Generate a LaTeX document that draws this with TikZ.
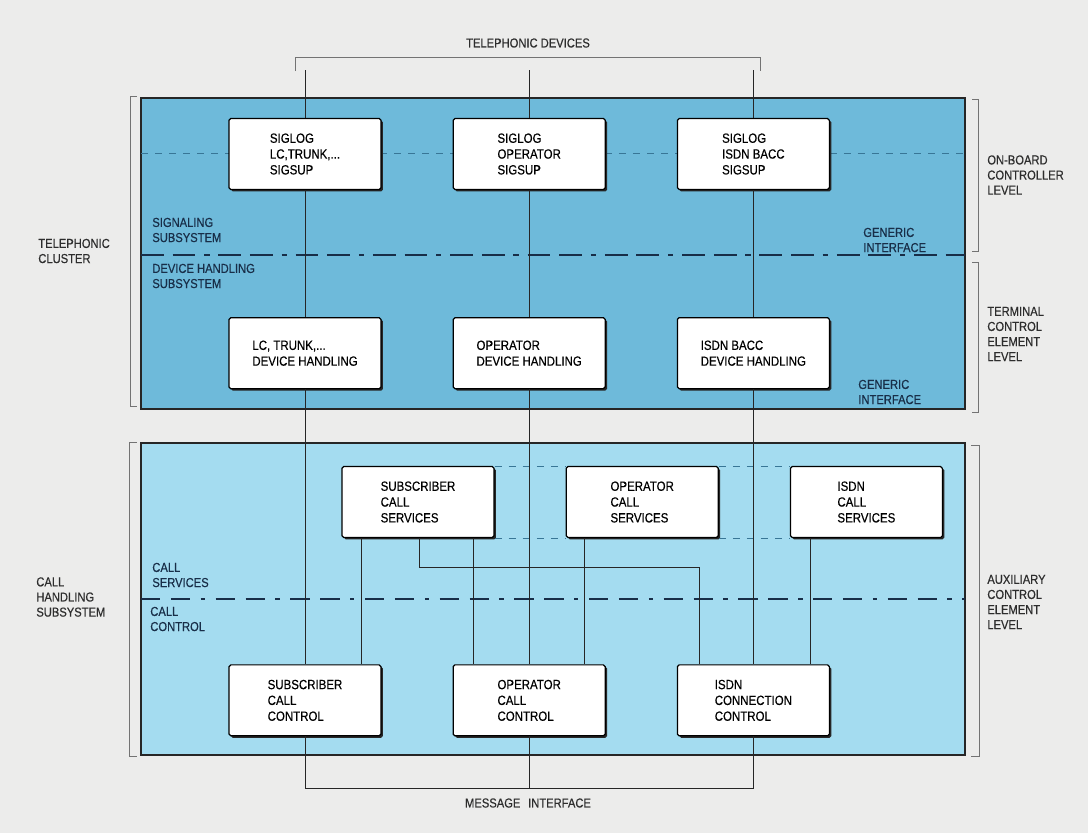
\documentclass[tikz,border=0pt]{standalone}
\usepackage{fontspec}
\setmainfont{Liberation Sans}[FakeStretch=0.86,FakeBold=0.35]
\usepackage{xcolor}
\usetikzlibrary{positioning, shadows}
\definecolor{paper}{RGB}{236,236,235}
\definecolor{upperblue}{RGB}{110,186,218}
\definecolor{lowerblue}{RGB}{164,220,240}
\definecolor{navy}{RGB}{24,46,72}
\definecolor{inkgrey}{RGB}{45,45,45}
\definecolor{dashblue}{RGB}{56,118,150}

\begin{document}
\begin{tikzpicture}[
    x=0.02cm, y=-0.02cm,
    node distance=1.42cm,
    unit/.style={rectangle,draw=black,fill=white,line width=0.7pt,rounded corners=1pt,
        minimum width=3.04cm,minimum height=1.42cm,align=left,
        font=\fontsize{7.6}{9}\selectfont,
        drop shadow={shadow xshift=1.1pt,shadow yshift=-1.1pt,opacity=1,fill=black!85}},
    inlabel/.style={align=left,anchor=west,inner sep=0pt,text=navy,font=\fontsize{7.4}{8.6}\selectfont},
    outlabel/.style={align=left,anchor=west,inner sep=0pt,text=inkgrey,font=\fontsize{7.4}{8.6}\selectfont},
    panel/.style={draw=black!85,line width=0.9pt},
    brace/.style={draw=black!55,line width=0.5pt},
    link/.style={draw=black!85,line width=0.55pt},
    faint/.style={draw=dashblue,line width=0.4pt,dash pattern=on 4pt off 4pt},
    levelline/.style={draw=navy,line width=1.3pt,dash pattern=on 13pt off 5pt on 13pt off 5pt on 3pt off 5pt},
    subline/.style={draw=navy,line width=0.9pt,dash pattern=on 11pt off 6pt on 11pt off 6pt on 2.5pt off 6pt}
]
\fill[paper] (0,0) rectangle (1088,833);
\useasboundingbox (0,0) rectangle (1088,833);

% panels
\fill[upperblue] (141,98) rectangle (965,409);
\draw[panel] (141,98) rectangle (965,409);
\fill[lowerblue] (141,443) rectangle (965,755);
\draw[panel] (141,443) rectangle (965,755);

\draw[faint] (141,153) -- (965,153);
\draw[levelline] (141,255) -- (965,255);
\draw[subline] (141,599) -- (965,599);

% boxes
\node[unit] (sig1) at (305,154) {SIGLOG\\LC,TRUNK,...\\SIGSUP};
\node[unit,right=of sig1] (sig2) {SIGLOG\\OPERATOR\\SIGSUP};
\node[unit,right=of sig2] (sig3) {SIGLOG\\ISDN BACC\\SIGSUP};
\node[unit,below=2.54cm of sig1] (dev1) {LC, TRUNK,...\\DEVICE HANDLING};
\node[unit,right=of dev1] (dev2) {OPERATOR\\DEVICE HANDLING};
\node[unit,right=of dev2] (dev3) {ISDN BACC\\DEVICE HANDLING};
\node[unit] (svc1) at (418,502) {SUBSCRIBER\\CALL\\SERVICES};
\node[unit,right=of svc1] (svc2) {OPERATOR\\CALL\\SERVICES};
\node[unit,right=of svc2] (svc3) {ISDN\\CALL\\SERVICES};
\node[unit,below=5.5cm of dev1] (ctl1) {SUBSCRIBER\\CALL\\CONTROL};
\node[unit,right=of ctl1] (ctl2) {OPERATOR\\CALL\\CONTROL};
\node[unit,right=of ctl2] (ctl3) {ISDN\\CONNECTION\\CONTROL};

\draw[faint] (svc1.north east) -- (svc2.north west);
\draw[faint] (svc2.north east) -- (svc3.north west);
\draw[faint] (svc1.south east) -- (svc2.south west);
\draw[faint] (svc2.south east) -- (svc3.south west);

% labels
\node[outlabel,anchor=center] (devices) at (528,43) {TELEPHONIC DEVICES};
\node[outlabel,anchor=center] (message) at (528,803) {MESSAGE\hspace{0.6em}INTERFACE};
\node[outlabel] (cluster) at (38,251) {TELEPHONIC\\CLUSTER};
\node[outlabel] (handling) at (36,597) {CALL\\HANDLING\\SUBSYSTEM};
\node[outlabel] (onboard) at (987,175) {ON-BOARD\\CONTROLLER\\LEVEL};
\node[outlabel] (terminal) at (987,334) {TERMINAL\\CONTROL\\ELEMENT\\LEVEL};
\node[outlabel] (auxiliary) at (987,602) {AUXILIARY\\CONTROL\\ELEMENT\\LEVEL};
\node[inlabel] (signaling) at (152,230) {SIGNALING\\SUBSYSTEM};
\node[inlabel] (devsub) at (152,276) {DEVICE HANDLING\\SUBSYSTEM};
\node[inlabel] (generic1) at (863,240) {GENERIC\\INTERFACE};
\node[inlabel] (generic2) at (858,392) {GENERIC\\INTERFACE};
\node[inlabel] (callsvc) at (152,575) {CALL\\SERVICES};
\node[inlabel] (callctl) at (150,619) {CALL\\CONTROL};

% brackets
\draw[brace] (295,71) |- (760,57) -- (760,71);
\draw[brace] (137,96) -- (130,96) -- (130,406) -- (137,406);
\draw[brace] (137,442) -- (129,442) -- (129,756) -- (137,756);
\draw[brace] (972,99) -- (978,99) -- (978,251) -- (972,251);
\draw[brace] (972,262) -- (978,262) -- (978,412) -- (972,412);
\draw[brace] (971,445) -- (979,445) -- (979,756) -- (971,756);

% connectors
\coordinate (feed) at (0,70);
\coordinate (bus) at (0,788);
\coordinate (bend) at (0,567);
\foreach \col in {1,2,3} {
  \coordinate (top\col) at (sig\col |- feed);
  \draw[link] (top\col) -- (sig\col);
  \draw[link] (sig\col) -- (dev\col) -- (ctl\col);
}
\coordinate (msg) at (ctl2 |- bus);
\draw[link] (ctl1) |- (msg) -| (ctl3);
\draw[link] (ctl2) -- (msg);

\draw[link] ([xshift=0.4cm]svc1.south west) -- ([xshift=0.4cm]svc1.south west |- ctl1.north);
\draw[link] ([xshift=-0.42cm]svc1.south east) -- ([xshift=-0.42cm]svc1.south east |- ctl2.north);
\draw[link] ([xshift=0.38cm]svc2.south west) -- ([xshift=0.38cm]svc2.south west |- ctl2.north);
\draw[link] ([xshift=0.42cm]svc3.south west) -- ([xshift=0.42cm]svc3.south west |- ctl3.north);
\draw[link] ([xshift=0.02cm]svc1.south) |- ([xshift=0.46cm]ctl3.north west |- bend) -- ([xshift=0.46cm]ctl3.north west);
\end{tikzpicture}
\end{document}
